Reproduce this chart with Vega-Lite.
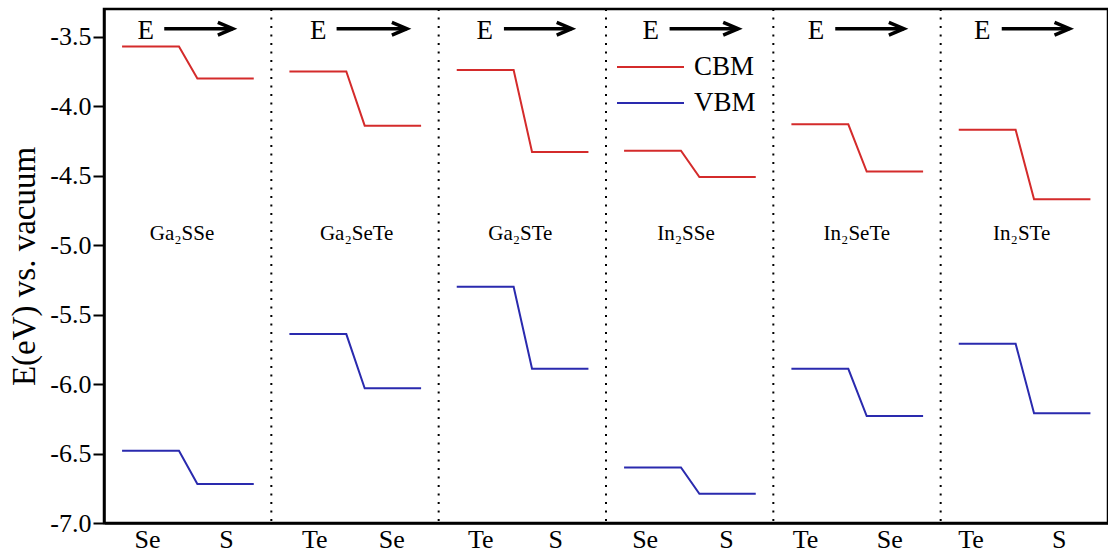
{
  "$schema": "https://vega.github.io/schema/vega-lite/v6.json",
  "width": 1004,
  "height": 514,
  "autosize": {"type": "none"},
  "padding": {"left": 104, "top": 9, "right": 0, "bottom": 32},
  "background": "white",
  "config": {
    "view": {"stroke": "black", "strokeWidth": 2.5},
    "font": "Liberation Serif"
  },
  "datasets": {
    "lines": [
      {"p": 0, "band": "CBM", "x": 0.108, "E": -3.57},
      {"p": 0, "band": "CBM", "x": 0.448, "E": -3.57},
      {"p": 0, "band": "CBM", "x": 0.558, "E": -3.80},
      {"p": 0, "band": "CBM", "x": 0.895, "E": -3.80},
      {"p": 0, "band": "VBM", "x": 0.108, "E": -6.48},
      {"p": 0, "band": "VBM", "x": 0.448, "E": -6.48},
      {"p": 0, "band": "VBM", "x": 0.558, "E": -6.72},
      {"p": 0, "band": "VBM", "x": 0.895, "E": -6.72},
      {"p": 1, "band": "CBM", "x": 1.108, "E": -3.75},
      {"p": 1, "band": "CBM", "x": 1.448, "E": -3.75},
      {"p": 1, "band": "CBM", "x": 1.558, "E": -4.14},
      {"p": 1, "band": "CBM", "x": 1.895, "E": -4.14},
      {"p": 1, "band": "VBM", "x": 1.108, "E": -5.64},
      {"p": 1, "band": "VBM", "x": 1.448, "E": -5.64},
      {"p": 1, "band": "VBM", "x": 1.558, "E": -6.03},
      {"p": 1, "band": "VBM", "x": 1.895, "E": -6.03},
      {"p": 2, "band": "CBM", "x": 2.108, "E": -3.74},
      {"p": 2, "band": "CBM", "x": 2.448, "E": -3.74},
      {"p": 2, "band": "CBM", "x": 2.558, "E": -4.33},
      {"p": 2, "band": "CBM", "x": 2.895, "E": -4.33},
      {"p": 2, "band": "VBM", "x": 2.108, "E": -5.30},
      {"p": 2, "band": "VBM", "x": 2.448, "E": -5.30},
      {"p": 2, "band": "VBM", "x": 2.558, "E": -5.89},
      {"p": 2, "band": "VBM", "x": 2.895, "E": -5.89},
      {"p": 3, "band": "CBM", "x": 3.108, "E": -4.32},
      {"p": 3, "band": "CBM", "x": 3.448, "E": -4.32},
      {"p": 3, "band": "CBM", "x": 3.558, "E": -4.51},
      {"p": 3, "band": "CBM", "x": 3.895, "E": -4.51},
      {"p": 3, "band": "VBM", "x": 3.108, "E": -6.60},
      {"p": 3, "band": "VBM", "x": 3.448, "E": -6.60},
      {"p": 3, "band": "VBM", "x": 3.558, "E": -6.79},
      {"p": 3, "band": "VBM", "x": 3.895, "E": -6.79},
      {"p": 4, "band": "CBM", "x": 4.108, "E": -4.13},
      {"p": 4, "band": "CBM", "x": 4.448, "E": -4.13},
      {"p": 4, "band": "CBM", "x": 4.558, "E": -4.47},
      {"p": 4, "band": "CBM", "x": 4.895, "E": -4.47},
      {"p": 4, "band": "VBM", "x": 4.108, "E": -5.89},
      {"p": 4, "band": "VBM", "x": 4.448, "E": -5.89},
      {"p": 4, "band": "VBM", "x": 4.558, "E": -6.23},
      {"p": 4, "band": "VBM", "x": 4.895, "E": -6.23},
      {"p": 5, "band": "CBM", "x": 5.108, "E": -4.17},
      {"p": 5, "band": "CBM", "x": 5.448, "E": -4.17},
      {"p": 5, "band": "CBM", "x": 5.558, "E": -4.67},
      {"p": 5, "band": "CBM", "x": 5.895, "E": -4.67},
      {"p": 5, "band": "VBM", "x": 5.108, "E": -5.71},
      {"p": 5, "band": "VBM", "x": 5.448, "E": -5.71},
      {"p": 5, "band": "VBM", "x": 5.558, "E": -6.21},
      {"p": 5, "band": "VBM", "x": 5.895, "E": -6.21}
    ],
    "dividers": [{"d": 1}, {"d": 2}, {"d": 3}, {"d": 4}, {"d": 5}],
    "arrows": [
      {"ex": 0.25, "xs": 0.36, "xe": 0.77, "ya": -3.442, "ye": -3.517},
      {"ex": 1.28, "xs": 1.39, "xe": 1.81, "ya": -3.442, "ye": -3.517},
      {"ex": 2.275, "xs": 2.39, "xe": 2.795, "ya": -3.442, "ye": -3.517},
      {"ex": 3.267, "xs": 3.38, "xe": 3.79, "ya": -3.442, "ye": -3.517},
      {"ex": 4.255, "xs": 4.37, "xe": 4.78, "ya": -3.442, "ye": -3.517},
      {"ex": 5.249, "xs": 5.365, "xe": 5.77, "ya": -3.442, "ye": -3.517}
    ],
    "compounds": [
      {"name": "Ga₂SSe", "x": 0.466, "y": -4.96},
      {"name": "Ga₂SeTe", "x": 1.51, "y": -4.96},
      {"name": "Ga₂STe", "x": 2.488, "y": -4.96},
      {"name": "In₂SSe", "x": 3.478, "y": -4.96},
      {"name": "In₂SeTe", "x": 4.499, "y": -4.96},
      {"name": "In₂STe", "x": 5.484, "y": -4.96}
    ]
  },
  "layer": [
    {
      "data": {"name": "lines"},
      "mark": {"type": "line", "strokeWidth": 2},
      "encoding": {
        "x": {
          "field": "x", "type": "quantitative",
          "scale": {"domain": [0, 6], "nice": false, "zero": false},
          "axis": {
            "title": null,
            "values": [0.257, 0.729, 1.257, 1.717, 2.249, 2.697, 3.231, 3.717, 4.189, 4.693, 5.178, 5.705],
            "labelExpr": "['Se','S','Te','Se','Te','S','Se','S','Te','Se','Te','S'][indexof([0.257, 0.729, 1.257, 1.717, 2.249, 2.697, 3.231, 3.717, 4.189, 4.693, 5.178, 5.705], datum.value)]",
            "ticks": false,
            "grid": false,
            "domainColor": "black",
            "domainWidth": 2.5,
            "labelFont": "Liberation Serif",
            "labelFontSize": 26,
            "labelColor": "black",
            "labelPadding": 3,
            "labelFlush": false,
            "labelOverlap": false
          }
        },
        "y": {
          "field": "E", "type": "quantitative",
          "scale": {"domain": [-7, -3.3], "nice": false, "zero": false},
          "axis": {
            "title": "E(eV) vs. vacuum",
            "titleFont": "Liberation Serif",
            "titleFontSize": 33,
            "titleFontWeight": "normal",
            "titleColor": "black",
            "titlePadding": 8,
            "values": [-7, -6.75, -6.5, -6.25, -6, -5.75, -5.5, -5.25, -5, -4.75, -4.5, -4.25, -4, -3.75, -3.5],
            "labelExpr": "abs(datum.value*2 - round(datum.value*2)) < 0.001 ? '-' + format(abs(datum.value), '.1f') : ''",
            "tickSize": {"condition": {"test": "abs(datum.value*2 - round(datum.value*2)) < 0.001", "value": 11}, "value": 7},
            "tickWidth": 2,
            "tickColor": "black",
            "grid": false,
            "domainColor": "black",
            "domainWidth": 2.5,
            "labelFont": "Liberation Serif",
            "labelFontSize": 26,
            "labelColor": "black",
            "labelPadding": 2,
            "labelFlush": false,
            "labelOverlap": false
          }
        },
        "color": {
          "field": "band", "type": "nominal",
          "scale": {"domain": ["CBM", "VBM"], "range": ["#d42b2b", "#2a2aae"]},
          "legend": {
            "orient": "none",
            "legendX": 512,
            "legendY": 43,
            "title": null,
            "symbolType": "stroke",
            "symbolSize": 4489,
            "symbolStrokeWidth": 2,
            "labelFont": "Liberation Serif",
            "labelFontSize": 27,
            "labelColor": "black",
            "labelOffset": 9,
            "clipHeight": 30,
            "rowPadding": 6,
            "padding": 0
          }
        },
        "detail": {"field": "p", "type": "nominal"}
      }
    },
    {
      "data": {"name": "dividers"},
      "mark": {"type": "rule", "color": "black", "strokeWidth": 2, "strokeDash": [2, 6.5]},
      "encoding": {
        "x": {"field": "d", "type": "quantitative", "scale": {"domain": [0, 6], "nice": false, "zero": false}}
      }
    },
    {
      "data": {"name": "arrows"},
      "mark": {"type": "rule", "color": "black", "strokeWidth": 3.5},
      "encoding": {
        "x": {"field": "xs", "type": "quantitative", "scale": {"domain": [0, 6], "nice": false, "zero": false}},
        "x2": {"field": "xe"},
        "y": {"field": "ya", "type": "quantitative", "scale": {"domain": [-7, -3.3], "nice": false, "zero": false}}
      }
    },
    {
      "data": {"name": "arrows"},
      "mark": {"type": "point", "shape": "M -1 -0.42 L 0 0 L -1 0.42", "filled": false, "stroke": "black", "strokeWidth": 3.5, "size": 900, "opacity": 1},
      "encoding": {
        "x": {"field": "xe", "type": "quantitative", "scale": {"domain": [0, 6], "nice": false, "zero": false}},
        "y": {"field": "ya", "type": "quantitative", "scale": {"domain": [-7, -3.3], "nice": false, "zero": false}}
      }
    },
    {
      "data": {"name": "arrows"},
      "mark": {"type": "text", "text": "E", "font": "Liberation Serif", "fontSize": 27, "color": "black", "baseline": "alphabetic", "align": "center"},
      "encoding": {
        "x": {"field": "ex", "type": "quantitative", "scale": {"domain": [0, 6], "nice": false, "zero": false}},
        "y": {"field": "ye", "type": "quantitative", "scale": {"domain": [-7, -3.3], "nice": false, "zero": false}}
      }
    },
    {
      "data": {"name": "compounds"},
      "mark": {"type": "text", "font": "Liberation Serif", "fontSize": 21, "color": "black", "baseline": "alphabetic", "align": "center"},
      "encoding": {
        "x": {"field": "x", "type": "quantitative", "scale": {"domain": [0, 6], "nice": false, "zero": false}},
        "y": {"field": "y", "type": "quantitative", "scale": {"domain": [-7, -3.3], "nice": false, "zero": false}},
        "text": {"field": "name"}
      }
    }
  ]
}
